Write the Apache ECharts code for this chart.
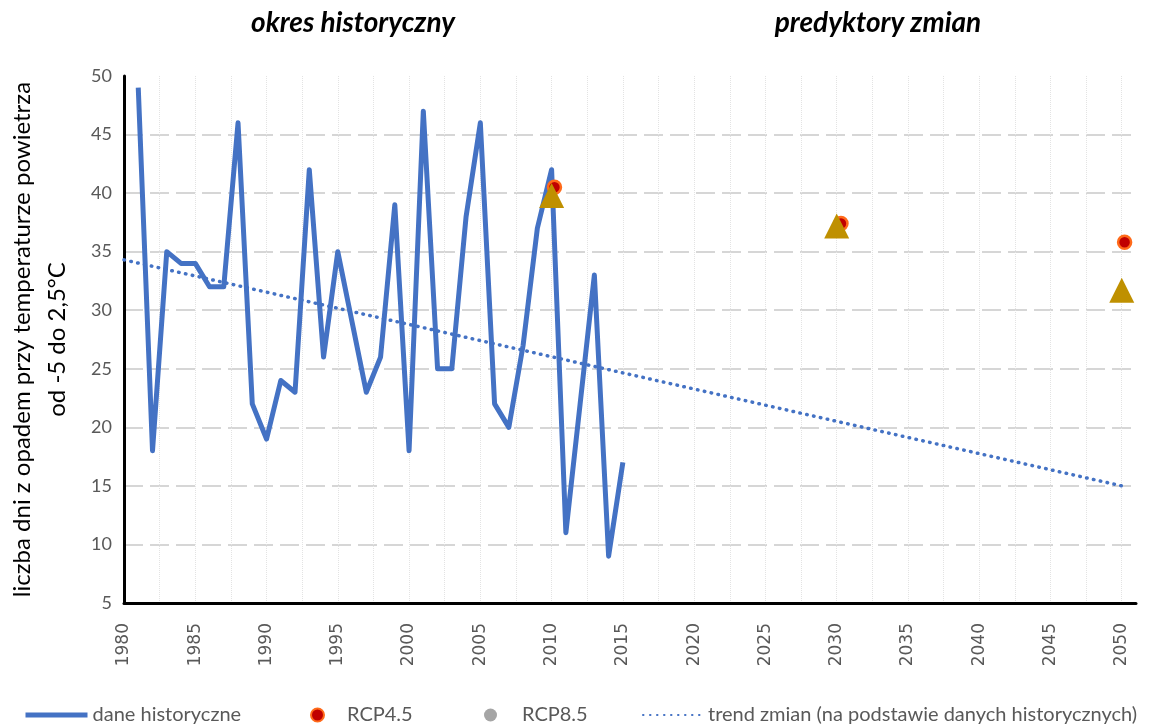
<!DOCTYPE html>
<html>
<head>
<meta charset="utf-8">
<script src="https://cdn.jsdelivr.net/npm/echarts@6/dist/echarts.min.js"></script>
<style>
  html, body { margin: 0; padding: 0; background: #fff; }
  #chart { width: 1152px; height: 725px; }
</style>
</head>
<body>
<div id="chart"></div>
<script>
// dane historyczne
const histYears = [1981, 1982, 1983, 1984, 1985, 1986, 1987, 1988, 1989, 1990,
  1991, 1992, 1993, 1994, 1995, 1996, 1997, 1998, 1999, 2000,
  2001, 2002, 2003, 2004, 2005, 2006, 2007, 2008, 2009, 2010,
  2011, 2012, 2013, 2014, 2015]
const histValues = [49, 18, 35, 34, 34, 32, 32, 46, 22, 19,
  24, 23, 42, 26, 35, 29, 23, 26, 39, 18,
  47, 25, 25, 38, 46, 22, 20, 27, 37, 42,
  11, 22, 33, 9, 17]

// scenariusze
const rcp45Years = [2010.2, 2030.3, 2050.2]
const rcp45Values = [40.5, 37.4, 35.8]
const rcp85Years = [2010, 2030, 2050]
const rcp85Values = [39.8, 37.2, 31.7]

// linia trendu
const trendYears = [1980, 2050]
const trendValues = [34.3, 15.0]

const font = 'Lato, "Open Sans", sans-serif'
const grey = '#595959'

function pairs(xs, ys) {
  return xs.map((x, i) => [x, ys[i]])
}

const chart = echarts.init(document.getElementById('chart'))

const legendText = { color: grey, fontSize: 20, fontFamily: font }
const noSymbol = { opacity: 0 }

chart.setOption({
  animation: false,
  title: [
    {
      text: 'okres historyczny', left: 348, top: 4, textAlign: 'center',
      textStyle: { fontSize: 28, fontWeight: 'bold', fontStyle: 'italic', color: '#000', fontFamily: font }
    },
    {
      text: 'predyktory zmian', left: 873, top: 4, textAlign: 'center',
      textStyle: { fontSize: 28, fontWeight: 'bold', fontStyle: 'italic', color: '#000', fontFamily: font }
    }
  ],
  grid: { left: 124, right: 16, top: 76, bottom: 122, outerBoundsMode: 'none' },
  legend: [
    {
      data: ['dane historyczne'], left: 18, top: 700,
      itemWidth: 62, itemHeight: 6, textStyle: legendText,
      itemStyle: noSymbol, lineStyle: { width: 5 }
    },
    {
      data: [{ name: 'RCP4.5', icon: 'circle' }], left: 305, top: 700,
      itemWidth: 13, itemHeight: 13, textStyle: Object.assign({ padding: [0, 0, 0, 18] }, legendText)
    },
    {
      data: [{ name: 'RCP8.5', icon: 'circle', itemStyle: { color: '#a5a5a5', borderWidth: 0 } }], left: 479, top: 700,
      itemWidth: 13, itemHeight: 13, textStyle: Object.assign({ padding: [0, 0, 0, 20] }, legendText)
    },
    {
      data: ['trend zmian (na podstawie danych historycznych)'], left: 637, top: 700,
      itemWidth: 60, itemHeight: 6, textStyle: legendText,
      itemStyle: noSymbol
    }
  ],
  xAxis: {
    type: 'value',
    min: 1980,
    max: 2051,
    interval: 2.5,
    axisLine: { show: true, onZero: false, lineStyle: { color: '#000', width: 3 } },
    axisTick: { show: false },
    axisLabel: {
      rotate: 90,
      margin: 20,
      color: grey,
      fontSize: 17,
      fontFamily: '"DejaVu Sans", sans-serif',
      showMaxLabel: false,
      formatter: v => (v % 5 === 0 ? String(v) : '')
    },
    splitLine: {
      show: true,
      showMaxLine: false,
      lineStyle: { color: '#e3e3e3', type: 'dotted', width: 1 }
    }
  },
  yAxis: {
    type: 'value',
    min: 5,
    max: 50,
    interval: 5,
    name: 'liczba dni z opadem przy temperaturze powietrza\nod -5 do 2,5°C',
    nameLocation: 'middle',
    nameRotate: 90,
    nameGap: 49,
    nameMoveOverlap: false,
    nameTextStyle: { fontSize: 24, color: '#000', fontFamily: font, lineHeight: 35 },
    axisLine: { show: true, lineStyle: { color: '#000', width: 3 } },
    axisTick: { show: false },
    axisLabel: { margin: 12, color: grey, fontSize: 18, fontFamily: font },
    splitLine: {
      show: true,
      showMinLine: false,
      showMaxLine: false,
      lineStyle: { color: '#d6d6d6', type: [19, 7], width: 2 }
    }
  },
  series: [
    {
      name: 'dane historyczne',
      type: 'line',
      data: pairs(histYears, histValues),
      symbol: 'none',
      lineStyle: { color: '#4472c4', width: 5, join: 'round' },
      itemStyle: { color: '#4472c4' },
      z: 2
    },
    {
      name: 'trend zmian (na podstawie danych historycznych)',
      type: 'line',
      data: pairs(trendYears, trendValues),
      symbol: 'none',
      lineStyle: { color: '#4472c4', width: 3.5, type: [0.5, 6.5], cap: 'round' },
      itemStyle: { color: '#4472c4' },
      z: 3
    },
    {
      name: 'RCP4.5',
      type: 'scatter',
      data: pairs(rcp45Years, rcp45Values),
      symbol: 'circle',
      symbolSize: 13,
      itemStyle: { color: '#c00000', borderColor: '#ff6a1a', borderWidth: 2.5, opacity: 1 },
      z: 4
    },
    {
      name: 'RCP8.5',
      type: 'scatter',
      data: pairs(rcp85Years, rcp85Values),
      symbol: 'triangle',
      symbolSize: 25,
      itemStyle: { color: '#bf9000', opacity: 1 },
      z: 5
    }
  ]
})
</script>
</body>
</html>
